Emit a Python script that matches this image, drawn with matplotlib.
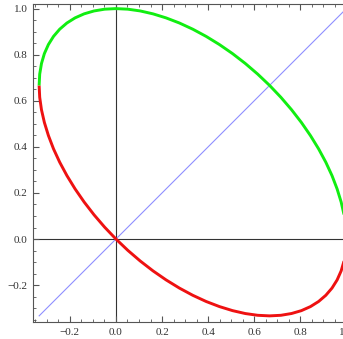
import numpy as np
import matplotlib
matplotlib.use("Agg")
import matplotlib.pyplot as plt
from matplotlib.ticker import MultipleLocator, FuncFormatter

green_x = [-0.3334, -0.3309, -0.3232, -0.3107, -0.2932, -0.2710, -0.2441, -0.2128, -0.1774,
           -0.1381, -0.0952, -0.0491, 0.0, 0.0515, 0.1053, 0.1608, 0.2175, 0.2752, 0.3333,
           0.3914, 0.4490, 0.5059, 0.5614, 0.6151, 0.6667, 0.7157, 0.7618, 0.8047, 0.8440,
           0.8794, 0.9107, 0.9376, 0.9597, 0.9772, 0.9899, 0.9975, 1.0]
green_y = [0.6666, 0.7157, 0.7618, 0.8047, 0.8440, 0.8794, 0.9107, 0.9376, 0.9598,
           0.9773, 0.9898, 0.9975, 1.0, 0.9975, 0.9899, 0.9772, 0.9597, 0.9376, 0.9107,
           0.8794, 0.8440, 0.8047, 0.7618, 0.7157, 0.6667, 0.6151, 0.5614, 0.5059, 0.4490,
           0.3914, 0.3333, 0.2752, 0.2175, 0.1608, 0.1053, 0.0515, 0.0]

# lower branch (red)
red_x = [-0.3334, -0.3309, -0.3233, -0.3106, -0.2931, -0.2710, -0.2441, -0.2128, -0.1774,
         -0.1381, -0.0952, -0.0491, 0.0, 0.0515, 0.1052, 0.1607, 0.2176, 0.2752, 0.3333,
         0.3914, 0.4491, 0.5058, 0.5613, 0.6151, 0.6666, 0.7157, 0.7618, 0.8047, 0.8440,
         0.8794, 0.9107, 0.9376, 0.9598, 0.9773, 0.9898, 0.9975, 1.0]
red_y = [0.6666, 0.6151, 0.5613, 0.5058, 0.4491, 0.3914, 0.3333, 0.2752, 0.2176,
         0.1607, 0.1052, 0.0515, 0.0, -0.0491, -0.0952, -0.1381, -0.1774, -0.2128, -0.2441,
         -0.2710, -0.2931, -0.3106, -0.3233, -0.3309, -0.3334, -0.3309, -0.3232, -0.3107, -0.2932,
         -0.2710, -0.2441, -0.2128, -0.1774, -0.1381, -0.0952, -0.0491, 0.0]

diag_x = [-0.3333, 1.0]
diag_y = [-0.3333, 1.0]

x_ticks = [-0.2, 0.0, 0.2, 0.4, 0.6, 0.8, 1.0]
y_ticks = [-0.2, 0.0, 0.2, 0.4, 0.6, 0.8, 1.0]

fig = plt.figure(figsize=(3.43, 3.39), dpi=100)
# axes runs a bit past the right edge, like the cropped original
ax = fig.add_axes([33 / 343, 17 / 339, 318 / 343, 318 / 339])

ax.axhline(0, color="#333333", lw=0.8, zorder=1)
ax.axvline(0, color="#333333", lw=0.8, zorder=1)
ax.plot(diag_x, diag_y, color="#8f8fff", lw=0.8, zorder=2)
ax.plot(red_x, red_y, color="#ee1111", lw=2.1, solid_capstyle="butt",
        solid_joinstyle="round", zorder=3)
ax.plot(green_x, green_y, color="#11ee11", lw=2.1, solid_capstyle="butt",
        solid_joinstyle="round", zorder=3)

ax.set_xlim(-0.36, 1.02)
ax.set_ylim(-0.36, 1.02)

fmt = FuncFormatter(lambda v, p: ("%.1f" % v).replace("-", "\u2212"))
ax.set_xticks(x_ticks)
ax.set_yticks(y_ticks)
ax.xaxis.set_major_formatter(fmt)
ax.yaxis.set_major_formatter(fmt)
ax.xaxis.set_minor_locator(MultipleLocator(0.05))
ax.yaxis.set_minor_locator(MultipleLocator(0.05))

ax.tick_params(which="both", direction="in", top=True, right=True, color="#555555",
               labelsize=8, labelcolor="#333333", pad=4)
ax.tick_params(which="major", length=4, width=0.8)
ax.tick_params(which="minor", length=2, width=0.6)
for lab in ax.get_xticklabels() + ax.get_yticklabels():
    lab.set_fontfamily("Liberation Serif")

for s in ax.spines.values():
    s.set_color("#555555")
    s.set_linewidth(0.8)

fig.savefig("out.png", dpi=100)
